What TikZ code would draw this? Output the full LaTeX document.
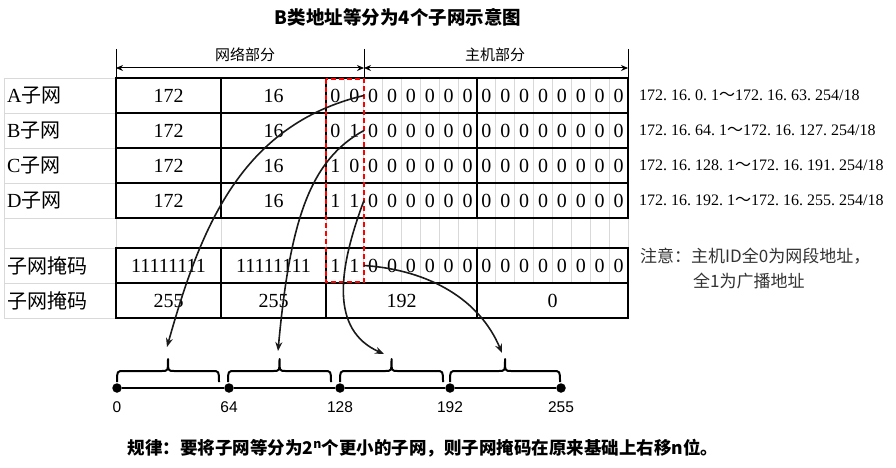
\documentclass[tikz,border=0pt]{standalone}
\usepackage{fontspec}
\setmainfont{Liberation Serif}
\setsansfont{Liberation Sans}
\newfontfamily\cjk{Noto Sans CJK SC}
\usetikzlibrary{arrows.meta,positioning}
\definecolor{gridgray}{HTML}{D9D9D9}
\definecolor{ink}{HTML}{1A1A1A}
\definecolor{notegray}{HTML}{333333}
\newcommand{\zh}[1]{{\cjk #1}}
\newcommand{\dt}{\makebox[0.5em][l]{.}}
\newcommand{\tl}{\zh{～}}
% curly bracket over a segment: left x, right x
\newcommand{\seg}[2]{%
  \draw[brc] (#1,382) .. controls (#1,371) .. ({#1+7},371)
    -- ({(#1+#2)/2-6},371) .. controls ({(#1+#2)/2},371) .. ({(#1+#2)/2},359)
    .. controls ({(#1+#2)/2},371) .. ({(#1+#2)/2+6},371)
    -- ({#2-7},371) .. controls (#2,371) .. (#2,382);}
\tikzset{
  cell/.style={inner sep=0pt, font=\fontsize{20}{24}\selectfont},
  bit/.style={cell, minimum width=18.875pt, minimum height=34pt},
  rowlbl/.style={cell, anchor=west},
  rangelbl/.style={inner sep=0pt, anchor=west, font=\fontsize{16}{19}\selectfont},
  partlbl/.style={inner sep=0pt, font=\fontsize{15}{18}\selectfont\cjk},
  notelbl/.style={inner sep=0pt, anchor=west, text=notegray, font=\fontsize{17}{20}\selectfont\cjk},
  tblline/.style={line width=2.2pt, black},
  gridline/.style={line width=0.8pt, gridgray},
  conn/.style={-{Stealth[length=9pt, width=7pt, inset=3pt]}, line width=1.6pt, ink},
  dimline/.style={{Stealth[length=7pt, width=6pt]}-{Stealth[length=7pt, width=6pt]}, line width=1pt},
  dot/.style={circle, fill=black, inner sep=0pt, minimum size=9.5pt},
  numlab/.style={inner sep=0pt, font=\sffamily\fontsize{15.5}{18}\selectfont},
  brc/.style={line width=2pt, line join=round},
}

\begin{document}
\begin{tikzpicture}[x=1pt, y=-1pt, node distance=5pt]
\useasboundingbox (0,0) rectangle (896,468);

\node (title) at (398,17) {\fontsize{18.5}{22}\selectfont\cjk\bfseries B类地址等分为4个子网示意图};

% spreadsheet grid
\foreach \y in {78,113,148,183,218,248,283,318}
  \draw[gridline] (4,\y) -- (116,\y);
\draw[gridline] (4,78) -- (4,318);
\foreach \i in {1,...,15}
  \draw[gridline] ({326+\i*18.875},78) -- ({326+\i*18.875},283);
\foreach \x in {116,221,326,477,628}
  \draw[gridline] (\x,218) -- (\x,248);

% network / host parts
\coordinate (d0) at (116,68);
\coordinate (d1) at (364,68);
\coordinate (d2) at (628,68);
\foreach \x in {116,364,628}
  \draw[line width=1pt] (\x,49) -- (\x,78);
\draw[dimline] (d0) -- (d1);
\draw[dimline] (d1) -- (d2);
\node[partlbl] (net) at (245,55) {网络部分};
\node[partlbl] (host) at (495,55) {主机部分};

% table
\draw[tblline] (116,78) rectangle (628,218);
\foreach \y in {113,148,183}
  \draw[tblline] (116,\y) -- (628,\y);
\foreach \x in {221,326,477}
  \draw[tblline] (\x,78) -- (\x,218);
\draw[tblline] (116,248) rectangle (628,318);
\draw[tblline] (116,283) -- (628,283);
\foreach \x in {221,326,477}
  \draw[tblline] (\x,248) -- (\x,318);

% bits
\foreach \rw/\y/\ba/\bb in {A/95.5/0/0,B/130.5/0/1,C/165.5/1/0,D/200.5/1/1,M/265.5/1/1}{
  \node[bit] (\rw1) at (335.4375,\y) {\ba};
  \node[bit] (\rw2) at (354.3125,\y) {\bb};
  \foreach \i in {3,...,16}
    \node[bit] (\rw\i) at ({326+(\i-0.5)*18.875},\y) {0};
}

% rows
\foreach \rw/\y in {A/95.5,B/130.5,C/165.5,D/200.5}{
  \node[rowlbl] (lbl\rw) at (7,\y) {\rw\zh{子网}};
  \node[cell] (n1\rw) at (168.5,\y) {172};
  \node[cell] (n2\rw) at (273.5,\y) {16};
}
\node[rowlbl] (lblM) at (7,265.5) {\zh{子网掩码}};
\node[cell] (n1M) at (168.5,265.5) {11111111};
\node[cell] (n2M) at (273.5,265.5) {11111111};
\node[rowlbl] (lblK) at (7,300.5) {\zh{子网掩码}};
\node[cell] (k1) at (168.5,300.5) {255};
\node[cell] (k2) at (273.5,300.5) {255};
\node[cell] (k3) at (401.5,300.5) {192};
\node[cell] (k4) at (552.5,300.5) {0};

% address ranges
\node[rangelbl] (rA) at (639,95.5) {172\dt16\dt0\dt1\tl172\dt16\dt63\dt254/18};
\node[rangelbl] (rB) at (639,130.5) {172\dt16\dt64\dt1\tl172\dt16\dt127\dt254/18};
\node[rangelbl] (rC) at (639,165.5) {172\dt16\dt128\dt1\tl172\dt16\dt191\dt254/18};
\node[rangelbl] (rD) at (639,200.5) {172\dt16\dt192\dt1\tl172\dt16\dt255\dt254/18};

\node[notelbl] (note1) at (640,256) {注意：主机ID全0为网段地址，};
\node[notelbl] (note2) at (693,281) {全1为广播地址};

% borrowed bits
\draw[red, dashed, dash pattern=on 5pt off 3pt, line width=1.6pt] (326,79) rectangle (364,282);

% number line
\node[dot] (p0) at (117,388) {};
\node[dot] (p64) at (229,388) {};
\node[dot] (p128) at (340,388) {};
\node[dot] (p192) at (450,388) {};
\node[dot] (p255) at (561,388) {};
\draw[line width=2.8pt] (p0) -- (p64) -- (p128) -- (p192) -- (p255);
\node[numlab, below=9pt of p0] (l0) {0};
\node[numlab, below=9pt of p64] (l64) {64};
\node[numlab, below=9pt of p128] (l128) {128};
\node[numlab, below=9pt of p192] (l192) {192};
\node[numlab, below=9pt of p255] (l255) {255};

\seg{117}{219}
\seg{228}{331}
\seg{340}{443}
\seg{450}{560}

% subnets
\coordinate (g1) at (167,347);
\coordinate (g2) at (278,351);
\coordinate (g3) at (384,354);
\coordinate (g4) at (502,353);
\draw[conn] (A2.east) .. controls (240,125) and (200,230) .. (g1);
\draw[conn] (B2.east) .. controls (310,160) and (290,220) .. (g2);
\draw[conn] (D2.east) .. controls (338,270) and (330,330) .. (g3);
\draw[conn] (M2.east) .. controls (430,270) and (480,300) .. (g4);

\node[anchor=east] (rule) at (722,448) {\fontsize{17.5}{21}\selectfont\cjk\bfseries 规律：要将子网等分为2\textsuperscript{n}个更小的子网，则子网掩码在原来基础上右移n位。};
\end{tikzpicture}
\end{document}
